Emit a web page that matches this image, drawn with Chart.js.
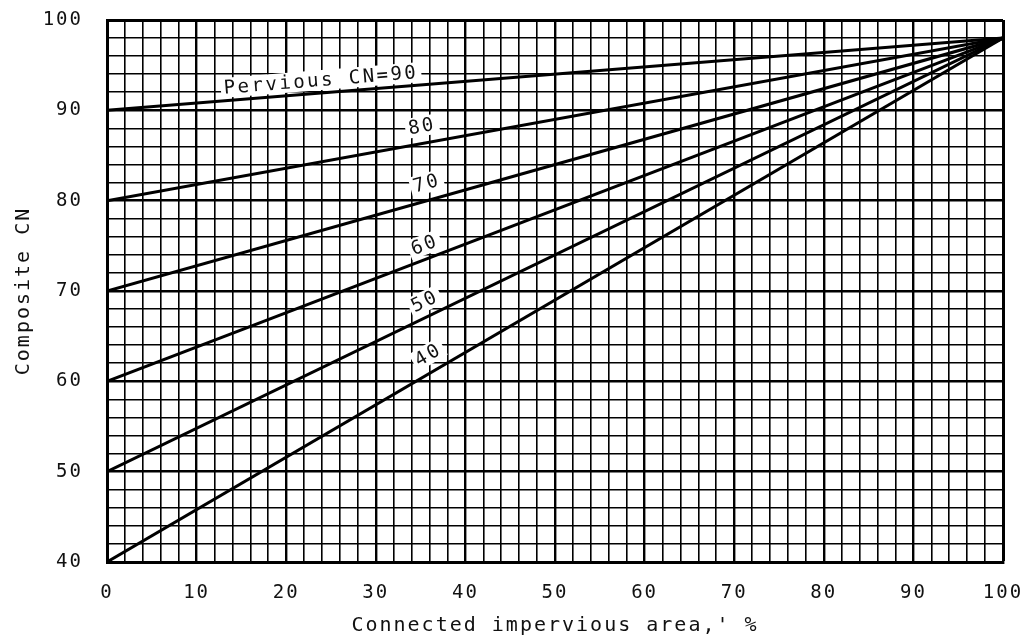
<!DOCTYPE html>
<html>
<head>
<meta charset="utf-8">
<script src="https://cdn.jsdelivr.net/npm/chart.js@4.4.0/dist/chart.umd.min.js"></script>
<style>
  html, body { margin: 0; padding: 0; background: #fff; }
</style>
</head>
<body>
<canvas id="cnChart" width="1034" height="643"></canvas>
<script>
// composite CN lines: from pervious CN at 0% to 98 at 100% impervious
const perviousCN = [90, 80, 70, 60, 50, 40];
const imperviousPct = [0, 100];
const compositeAt100 = [98, 98, 98, 98, 98, 98];
const curveLabels = ['Pervious CN=90', '80', '70', '60', '50', '40'];
const xTickLabels = ['0', '10', '20', '30', '40', '50', '60', '70', '80', '90', '100'];
const yTickLabels = ['40', '50', '60', '70', '80', '90', '100'];

const ctx = document.getElementById('cnChart');
const ink = '#111';
const mono = '"DejaVu Sans Mono", "Liberation Mono", monospace';

const datasets = perviousCN.map((cn, i) => ({
  label: curveLabels[i],
  data: [
    { x: imperviousPct[0], y: cn },
    { x: imperviousPct[1], y: compositeAt100[i] }
  ],
  showLine: true,
  borderColor: '#000',
  borderWidth: 3,
  pointRadius: 0,
  fill: false
}));

function gridWidth(c) {
  const v = c.tick.value;
  if (v === 100) return 3;
  return v % 10 === 0 ? 2.4 : 1.6;
}

// spaced typewriter look for all chart text
const spacing = {
  id: 'spacing',
  beforeDraw(chart) { chart.ctx.letterSpacing = '2px'; },
  afterDraw(chart) { chart.ctx.letterSpacing = '0px'; }
};

// labels sitting above each line, rotated with it
const curveLabelPlugin = {
  id: 'curveLabels',
  afterDatasetsDraw(chart, args, opts) {
    const c = chart.ctx;
    const { x, y } = chart.scales;
    curveLabels.forEach((txt, i) => {
      const ax = opts.at[i];
      const y0 = perviousCN[i], y1 = compositeAt100[i];
      const yv = y0 + (y1 - y0) * (ax - imperviousPct[0]) / (imperviousPct[1] - imperviousPct[0]);
      const px = x.getPixelForValue(ax), py = y.getPixelForValue(yv);
      const ang = Math.atan2(
        y.getPixelForValue(y1) - y.getPixelForValue(y0),
        x.getPixelForValue(imperviousPct[1]) - x.getPixelForValue(imperviousPct[0])
      );
      c.save();
      c.font = '19px ' + mono;
      c.letterSpacing = '2.5px';
      c.translate(px, py);
      c.rotate(ang);
      const w = c.measureText(txt).width;
      const lift = opts.lift[i];
      c.fillStyle = '#fff';
      c.fillRect(-w / 2 - 3, -lift - 10, w + 6, 20);
      c.fillStyle = ink;
      c.textAlign = 'center';
      c.textBaseline = 'middle';
      c.fillText(txt, 0, -lift + 1);
      c.restore();
    });
  }
};

new Chart(ctx, {
  type: 'scatter',
  data: { datasets: datasets },
  options: {
    responsive: false,
    animation: false,
    layout: { padding: { top: 20, right: 31, left: 0, bottom: 0 } },
    plugins: {
      legend: { display: false },
      tooltip: { enabled: false },
      curveLabels: {
        at: [24, 35.5, 36.2, 36, 36.2, 36.8],
        lift: [13, 17, 17, 14, 15, 17]
      }
    },
    scales: {
      x: {
        type: 'linear',
        min: 0,
        max: 100,
        afterFit: s => { s.height = 81; s.paddingLeft = 0; s.paddingRight = 0; },
        ticks: {
          stepSize: 2,
          autoSkip: false,
          maxRotation: 0,
          padding: 20,
          color: ink,
          font: { family: mono, size: 19 },
          callback: v => xTickLabels.includes(String(v)) ? String(v) : ''
        },
        grid: { color: '#000', lineWidth: gridWidth, drawTicks: false },
        border: { color: '#000', width: 3 },
        title: {
          display: true,
          text: "Connected impervious area,' %",
          color: ink,
          font: { family: mono, size: 20 },
          padding: { top: 0, bottom: 5 }
        }
      },
      y: {
        type: 'linear',
        min: 40,
        max: 100,
        afterFit: s => { s.width = 107; s.paddingTop = 0; s.paddingBottom = 0; },
        ticks: {
          stepSize: 2,
          autoSkip: false,
          padding: 24,
          color: ink,
          font: { family: mono, size: 19 },
          callback: v => yTickLabels.includes(String(v)) ? String(v) : ''
        },
        grid: { color: '#000', lineWidth: gridWidth, drawTicks: false },
        border: { color: '#000', width: 3 },
        title: {
          display: true,
          text: 'Composite CN',
          color: ink,
          font: { family: mono, size: 20 },
          padding: { top: 12, bottom: 0 }
        }
      }
    }
  },
  plugins: [spacing, curveLabelPlugin]
});
</script>
</body>
</html>
